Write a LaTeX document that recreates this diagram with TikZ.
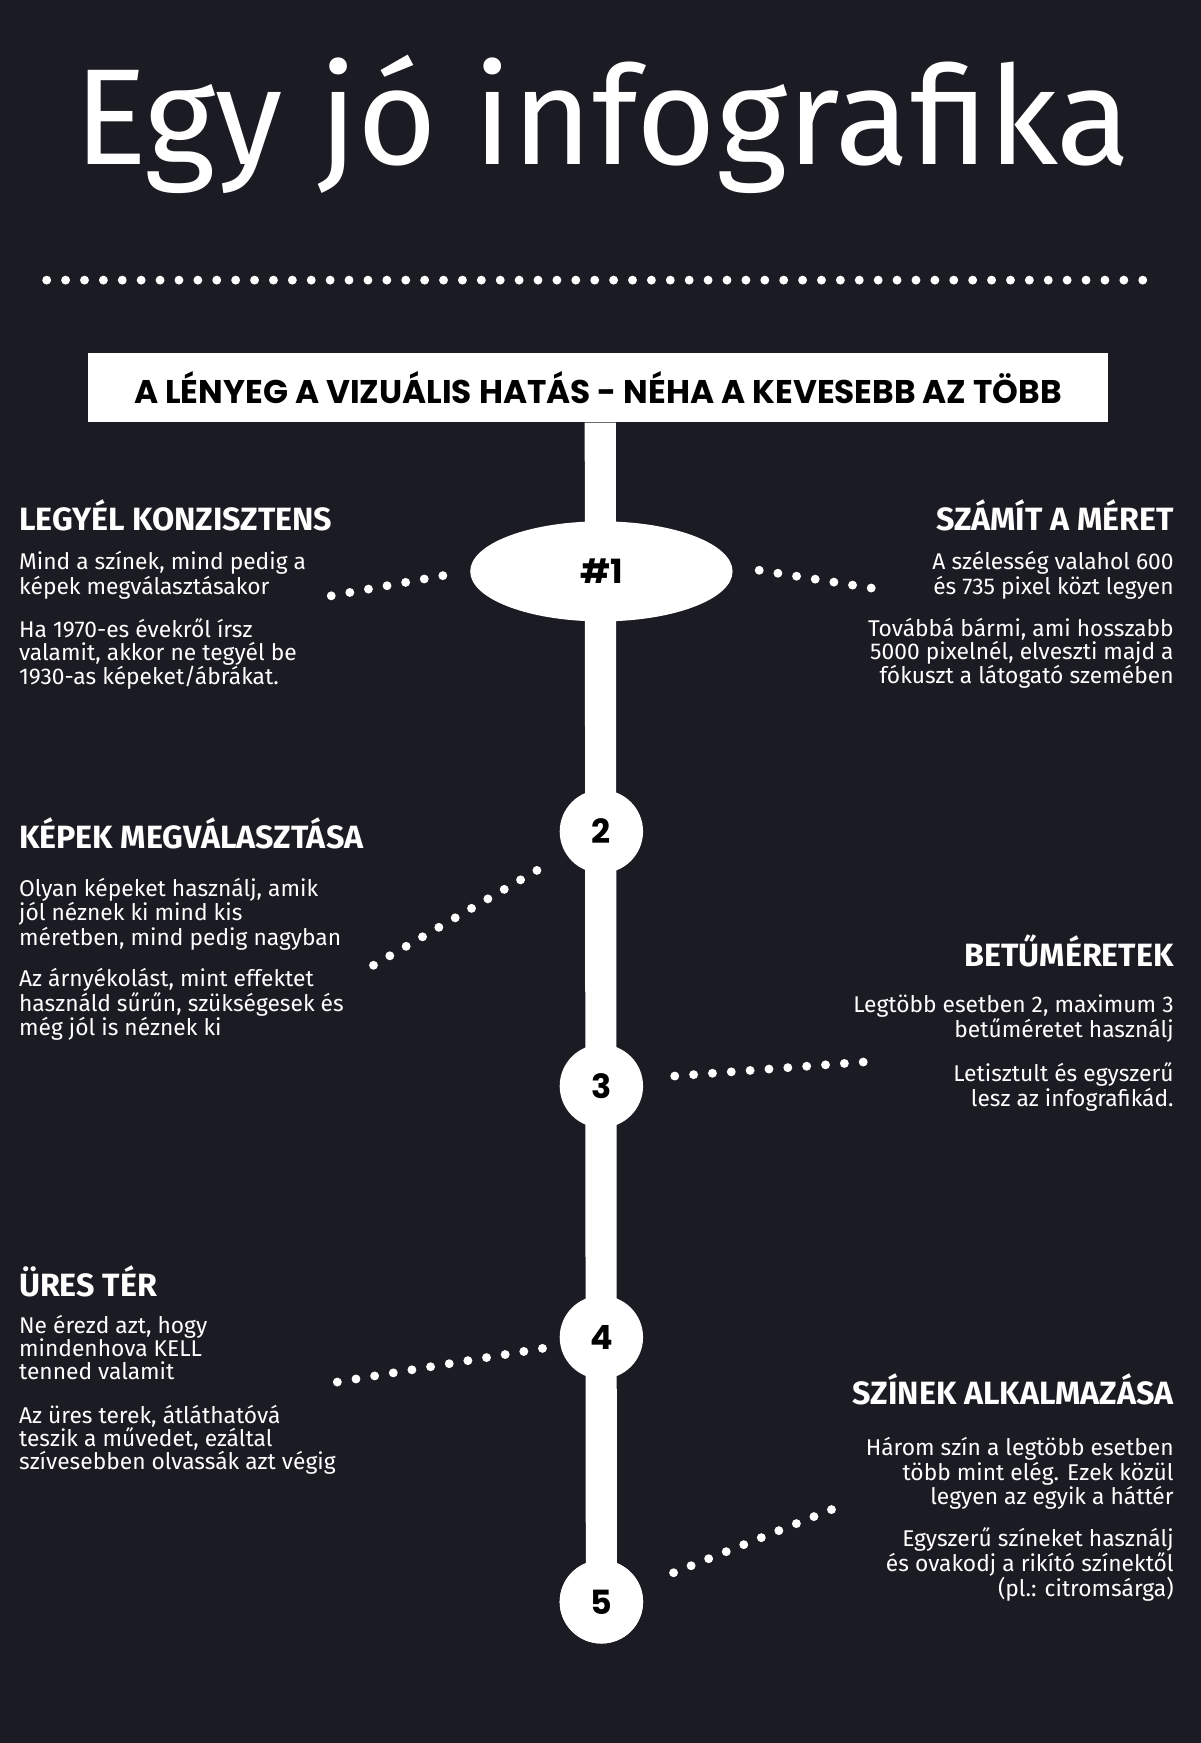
\documentclass[tikz,border=0pt]{standalone}
\usepackage{fontspec}
\usetikzlibrary{shapes.geometric}
\setmainfont{Fira Sans}
\newfontfamily\popp{Poppins}
\definecolor{bg}{HTML}{1B1B23}
\tikzset{
 dots/.style={white,line width=8pt,line cap=round,dash pattern=on 0pt off 17pt},
 head/.style={white,font=\bfseries\fontsize{29}{30}\selectfont,inner sep=0pt},
 bodyL/.style={white,font=\fontsize{20.5}{20.5}\selectfont,align=left,inner sep=0pt,anchor=north west},
 bodyR/.style={white,font=\fontsize{20.5}{20.5}\selectfont,align=right,inner sep=0pt,anchor=north east},
 num/.style={circle,fill=white,minimum size=75pt,inner sep=0pt,font=\popp\bfseries\fontsize{30}{30}\selectfont,text=black}
}
\begin{document}
\begin{tikzpicture}[x=1pt,y=-1pt]
\fill[bg] (0,0) rectangle (1080,1568);
\useasboundingbox (0,0) rectangle (1080,1568);
\node[white,font=\fontsize{123}{123}\selectfont] (title) at (542,112) {Egy jó infografika};
\coordinate (d1) at (42,252); \coordinate (d2) at (1028,252);
\draw[dots] (d1) -- (d2);
\node[fill=white,minimum width=918pt,minimum height=62pt,inner sep=0pt,font=\popp\bfseries\fontsize{29.5}{30}\selectfont,text=black] (box) at (538,349) {A LÉNYEG A VIZUÁLIS HATÁS - NÉHA A KEVESEBB AZ TÖBB};
\node[num] (n5) at (541,1441) {5};
\draw[white,line width=28pt] (box.south -| 540,0) -- (n5.center);
\node[ellipse,fill=white,minimum width=236pt,minimum height=90pt,inner sep=0pt,font=\popp\bfseries\fontsize{30}{30}\selectfont,text=black] (n1) at (541,514) {\#1};
\node[num] (n2) at (541,748) {2};
\node[num] (n3) at (541,977) {3};
\node[num] (n4) at (541,1203) {4};
\node[num] at (541,1441) {5};
% left column
\node[head,anchor=west] (h1) at (17,464) {LEGYÉL KONZISZTENS};
\node[bodyL] (b1) at (17,496) {Mind a színek, mind pedig a\\képek megválasztásakor};
\node[bodyL] (b1b) at (17,556) {Ha 1970-es évekről írsz\\valamit, akkor ne tegyél be\\1930-as képeket/ábrákat.};
\node[head,anchor=west] (h2) at (17,750) {KÉPEK MEGVÁLASZTÁSA};
\node[bodyL] (b2) at (17,790) {Olyan képeket használj, amik\\jól néznek ki mind kis\\méretben, mind pedig nagyban};
\node[bodyL] (b2b) at (17,871) {Az árnyékolást, mint effektet\\használd sűrűn, szükségesek és\\még jól is néznek ki};
\node[head,anchor=west] (h4) at (17,1153) {ÜRES TÉR};
\node[bodyL] (b4) at (17,1183) {Ne érezd azt, hogy\\mindenhova KELL\\tenned valamit};
\node[bodyL] (b4b) at (17,1264) {Az üres terek, átláthatóvá\\teszik a művedet, ezáltal\\szívesebben olvassák azt végig};
% right column
\node[head,anchor=east] (h1r) at (1056,464) {SZÁMÍT A MÉRET};
\node[bodyR] (r1) at (1056,496) {A szélesség valahol 600\\és 735 pixel közt legyen};
\node[bodyR] (r1b) at (1056,556) {Továbbá bármi, ami hosszabb\\5000 pixelnél, elveszti majd a\\fókuszt a látogató szemében};
\node[head,anchor=east] (h3r) at (1056,855) {BETŰMÉRETEK};
\node[bodyR] (r3) at (1056,895) {Legtöbb esetben 2, maximum 3\\betűméretet használj};
\node[bodyR] (r3b) at (1056,956) {Letisztult és egyszerű\\lesz az infografikád.};
\node[head,anchor=east] (h5r) at (1056,1250) {SZÍNEK ALKALMAZÁSA};
\node[bodyR] (r5) at (1056,1293) {Három szín a legtöbb esetben\\több mint elég. Ezek közül\\legyen az egyik a háttér};
\node[bodyR] (r5b) at (1056,1374) {Egyszerű színeket használj\\és ovakodj a rikító színektől\\(pl.: citromsárga)};
% dotted connectors
\coordinate (a1) at (298,536); \coordinate (a2) at (403,517);
\draw[dots] (a1) -- (a2);
\coordinate (a3) at (683,513); \coordinate (a4) at (790,530);
\draw[dots] (a3) -- (a4);
\coordinate (a5) at (483,783); \coordinate (a6) at (328,873);
\draw[dots] (a5) -- (a6);
\coordinate (a7) at (607,968); \coordinate (a8) at (782,955);
\draw[dots] (a7) -- (a8);
\coordinate (a9) at (488,1213); \coordinate (a10) at (293,1245);
\draw[dots] (a9) -- (a10);
\coordinate (a11) at (748,1358); \coordinate (a12) at (598,1418);
\draw[dots] (a11) -- (a12);
\end{tikzpicture}
\end{document}
